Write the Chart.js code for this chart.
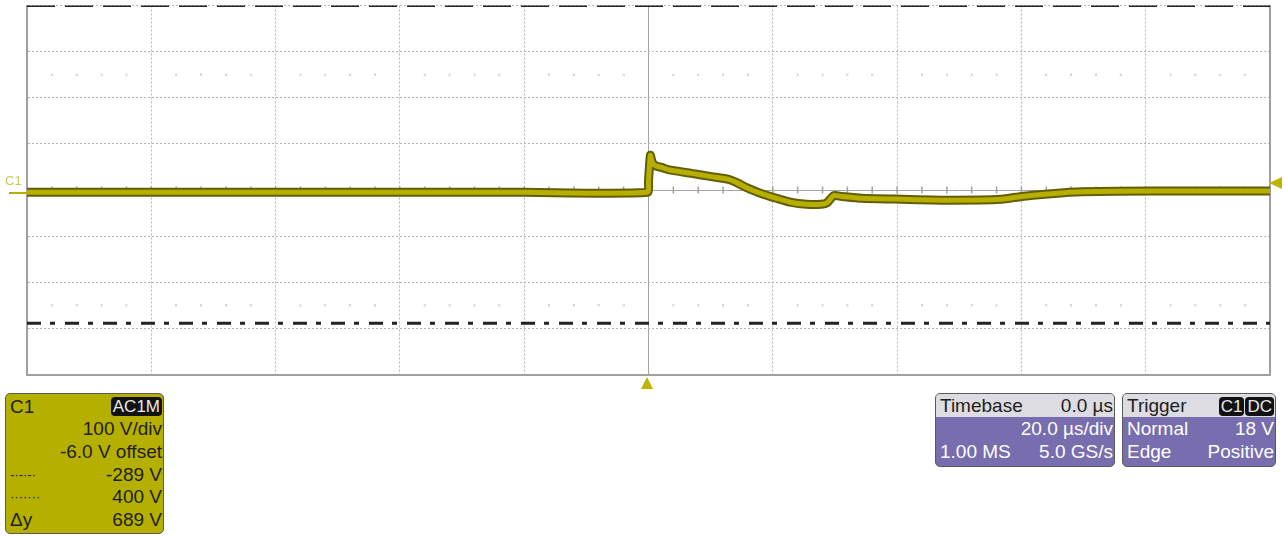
<!DOCTYPE html>
<html>
<head>
<meta charset="utf-8">
<script src="https://cdn.jsdelivr.net/npm/chart.js@4.4.0/dist/chart.umd.min.js"></script>
<style>
  body { margin: 0; background: #fff; font-family: "Liberation Sans", Arial, sans-serif; }
  #wrap { position: absolute; left: 0; top: 0; width: 1285px; height: 380px; }
  .mark { position: absolute; width: 0; height: 0; }
  #c1tag { position: absolute; left: 5px; top: 173px; font-size: 13px; color: #c9c860; }
  #c1gnd { position: absolute; left: 9px; top: 192px; width: 18px; height: 2px; background: #b5b000; }
  #trigLevel { left: 1269px; top: 177px; border-top: 6px solid transparent; border-bottom: 6px solid transparent; border-right: 13px solid #bdb600; }
  #trigPos { left: 641px; top: 377px; border-left: 6px solid transparent; border-right: 6px solid transparent; border-bottom: 12px solid #bdb600; }
  .box { position: absolute; box-sizing: border-box; border: 1px solid #5a5a5a; border-radius: 5px; font-size: 19px; line-height: 21px; }
  .row { display: flex; justify-content: space-between; padding: 0 1px 0 4px; height: 23px; align-items: center; white-space: nowrap; }
  #chBox { left: 5px; top: 393px; width: 159px; height: 141px; background: #b5af00; color: #1e1e1e; padding-top: 1px; }
  #chBox .row { height: 22.6px; }
  #tbBox { left: 935px; top: 393px; width: 180px; height: 74px; background: #776daf; color: #fff; }
  #trBox { left: 1122px; top: 393px; width: 154px; height: 74px; background: #776daf; color: #fff; }
  .head { background: #dcdce2; color: #1e1e1e; border-radius: 4px 4px 0 0; height: 23px; }
  .pill { background: #111; color: #e8e8e8; border-radius: 4px; padding: 0 2px; font-size: 17px; line-height: 19px; margin-left: 1px; }
  .lstyle { font-size: 13px; }
</style>
</head>
<body>
<div id="wrap"><canvas id="scope"></canvas></div>
<div id="c1tag">C1</div>
<div id="c1gnd"></div>
<div class="mark" id="trigLevel"></div>
<div class="mark" id="trigPos"></div>

<div class="box" id="chBox">
  <div class="row"><span>C1</span><span class="pill">AC1M</span></div>
  <div class="row"><span></span><span>100 V/div</span></div>
  <div class="row"><span></span><span>-6.0 V offset</span></div>
  <div class="row"><span class="lstyle">-·-·-·</span><span>-289 V</span></div>
  <div class="row"><span class="lstyle">·······</span><span>400 V</span></div>
  <div class="row"><span>Δy</span><span>689 V</span></div>
</div>
<div class="box" id="tbBox">
  <div class="row head"><span>Timebase</span><span>0.0 µs</span></div>
  <div class="row"><span></span><span>20.0 µs/div</span></div>
  <div class="row"><span>1.00 MS</span><span>5.0 GS/s</span></div>
</div>
<div class="box" id="trBox">
  <div class="row head"><span>Trigger</span><span><span class="pill">C1</span><span class="pill">DC</span></span></div>
  <div class="row"><span>Normal</span><span>18 V</span></div>
  <div class="row"><span>Edge</span><span>Positive</span></div>
</div>

<script>
// time in µs, voltage in V (20 µs/div, 100 V/div)
const traceTime = [-100, -60, -20, -0.2, 0, 0.3, 0.6, 1.2, 2.1, 3.2, 6.9, 10.1, 12.9, 14.2, 15.8, 18.2, 20.6, 23, 25.4, 27.8, 28.8, 29.8, 31.1, 34.3, 40.7, 48.8, 56.8, 60, 64.8, 69.7, 80.9, 100];
const traceVolts = [-5, -5, -5, -5, 20, 75, 60, 52, 49, 44, 36, 29, 23, 16, 5, -8, -18, -27, -31, -31, -27, -12, -14, -18, -20, -22, -20, -14, -8, -4, -2, -2];

const cursorA = 400;   // "......" cursor
const cursorB = -289;  // "-.-.-" cursor
const timeRange = [-100, 100];
const voltRange = [-400, 400];
const markerRows = [250, -250]; // faint dotted rows of the graticule

// small ticks on the centre line, 1/5 div apart
let minorTicks = [];
let faintDots = [];
for (let t = timeRange[0]; t <= timeRange[1]; t += 4) {
  minorTicks.push({ x: t, y: 0 });
  if (t % 20 != 0) markerRows.forEach(v => faintDots.push({ x: t, y: v }));
}

let trace = traceTime.map((t, i) => ({ x: t, y: traceVolts[i] }));

function printScope() {
  const ctx = document.getElementById('scope').getContext('2d');
  new Chart(ctx, {
    type: 'line',
    data: {
      datasets: [
        // yellow core on top, dark outline under it
        { data: trace, order: 1, borderColor: '#b6af00', borderWidth: 5, pointRadius: 0, tension: 0.2 },
        { data: trace, order: 2, borderColor: '#635e08', borderWidth: 9, pointRadius: 0, tension: 0.2 },
        {
          data: [{ x: timeRange[0], y: cursorA }, { x: timeRange[1], y: cursorA }], order: 3,
          borderColor: '#222', borderWidth: 3, borderDash: [28, 10], pointRadius: 0
        },
        {
          data: [{ x: timeRange[0], y: cursorB }, { x: timeRange[1], y: cursorB }], order: 3,
          borderColor: '#222', borderWidth: 3, borderDash: [14, 9, 5, 10], pointRadius: 0
        },
        {
          data: minorTicks, order: 4, showLine: false, pointStyle: 'line', rotation: 90,
          pointRadius: 3.5, pointBorderColor: '#a0a0a0', pointBorderWidth: 1.5
        },
        {
          data: faintDots, order: 5, showLine: false, pointStyle: 'crossRot',
          pointRadius: 1.5, pointBorderColor: '#c4c4c4', pointBorderWidth: 1
        }
      ]
    },
    options: {
      responsive: false,
      animation: false,
      layout: { padding: { left: 27, right: 15, top: 5, bottom: 5 } },
      plugins: { legend: { display: false }, tooltip: { enabled: false } },
      scales: {
        x: {
          type: 'linear', min: timeRange[0], max: timeRange[1],
          ticks: { display: false, stepSize: 20 },
          grid: {
            drawTicks: false, lineWidth: 1,
            color: c => c.tick.value === 0 ? '#a4a4a4' : '#b4b4b4'
          },
          border: { display: true, color: '#a0a0a0', width: 2, dash: c => c.tick && c.tick.value === 0 ? [] : [2, 2] }
        },
        y: {
          type: 'linear', min: voltRange[0], max: voltRange[1],
          ticks: { display: false, stepSize: 100 },
          grid: {
            drawTicks: false, lineWidth: 1,
            color: c => c.tick.value === 0 ? '#a4a4a4' : '#b4b4b4'
          },
          border: { display: true, color: '#a0a0a0', width: 2, dash: c => c.tick && c.tick.value === 0 ? [] : [2, 2] }
        },
        yRight: {
          type: 'linear', position: 'right', min: voltRange[0], max: voltRange[1],
          ticks: { display: false }, grid: { display: false, drawTicks: false },
          border: { display: true, color: '#a0a0a0', width: 2 }
        }
      }
    }
  });
}

document.getElementById('scope').width = 1285;
document.getElementById('scope').height = 380;
printScope();
</script>
</body>
</html>
